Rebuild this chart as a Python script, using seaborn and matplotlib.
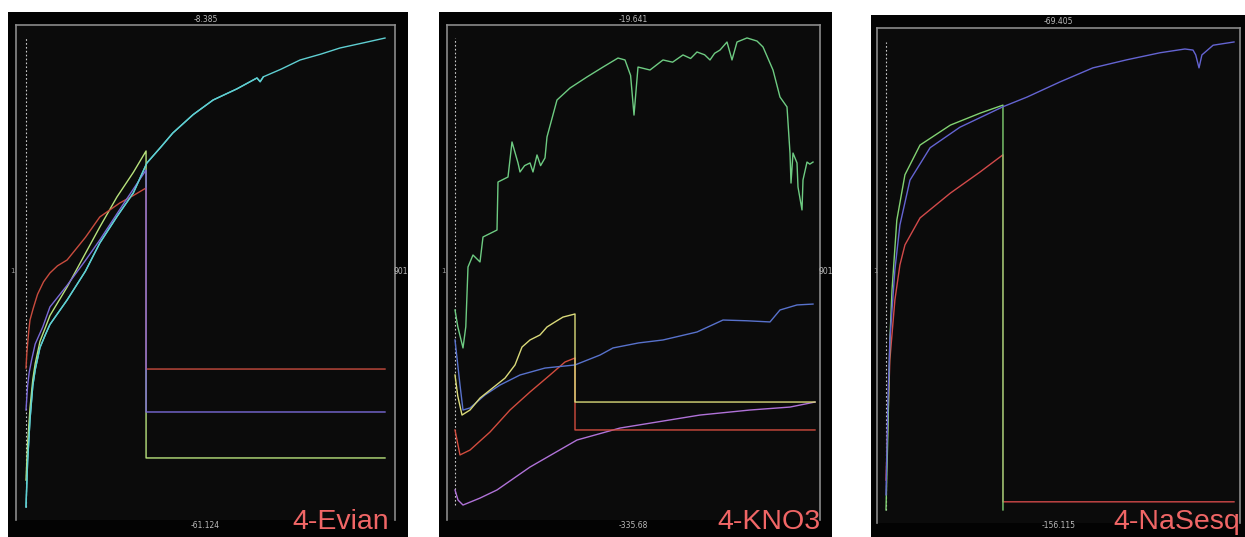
import numpy as np
import pandas as pd
import matplotlib
matplotlib.use("Agg")
import matplotlib.pyplot as plt
import seaborn as sns

# ---- Panel 1: 4-Evian ----
evian_range = (-61.124, -8.385)
evian_cyan_x = [1, 5, 11, 18, 24, 36, 49, 61, 104, 150, 186, 230, 270, 304, 340, 369, 420, 470, 530, 580, 588, 596, 640, 688, 740, 788, 850, 901]
evian_cyan_y = [-61.12, -56.0, -51.3, -47.5, -45.7, -43.2, -41.8, -40.6, -37.85, -34.6, -31.44, -28.4, -25.81, -22.44, -20.6, -19.07, -17.0, -15.36, -14.1, -12.88, -13.3, -12.75, -11.9, -10.86, -10.2, -9.51, -8.9, -8.39]
evian_green_x = [1, 5, 11, 18, 24, 36, 49, 61, 104, 150, 186, 229, 270, 302, 302, 901]
evian_green_y = [-58.1, -54.0, -50.0, -46.8, -45.0, -42.5, -41.0, -39.6, -36.39, -32.6, -29.64, -26.26, -23.5, -21.09, -55.61, -55.61]
evian_purple_x = [1, 5, 9, 15, 24, 43, 61, 104, 150, 186, 240, 302, 302, 901]
evian_purple_y = [-50.22, -47.5, -46.0, -44.6, -42.8, -40.88, -38.63, -36.2, -33.4, -31.1, -27.4, -23.23, -50.44, -50.44]
evian_red_x = [1, 3, 5, 8, 11, 19, 30, 45, 61, 80, 104, 150, 186, 236, 270, 302, 302, 901]
evian_red_y = [-45.5, -43.9, -42.8, -41.3, -40.1, -38.8, -37.2, -35.8, -34.81, -34.0, -33.35, -30.8, -28.51, -26.94, -26.1, -25.25, -45.61, -45.61]

# ---- Panel 2: 4-KNO3 ----
kno3_range = (-335.68, -19.641)
kno3_green_x = [1, 8, 21, 28, 33.5, 46, 63.5, 71, 106, 108.5, 133.5, 143.5, 158.5, 163.5, 175, 188.5, 196, 206, 215, 226, 231, 256,
                288.5, 331, 371, 408.5, 426, 440, 448.5, 458.5, 488.5, 521, 545, 571, 590, 606, 625, 638.5, 650, 663.5, 681, 693.5, 706, 731,
                756, 771, 796, 813.5, 831, 838.5, 841, 846, 856, 858.5, 868.5, 871, 881, 888, 896]
kno3_green_y = [-203.7, -215.0, -229.4, -215.0, -174.6, -166.5, -171.2, -154.3, -149.6, -117.1, -113.7, -90.0, -104.2, -110.3, -106.0, -104.2, -110.3, -98.8, -106.0, -100.8, -86.6, -61.6,
                -53.5, -46.0, -39.3, -33.2, -34.5, -45.0, -71.8, -39.3, -41.3, -34.5, -36.0, -31.1, -33.5, -29.1, -31.0, -34.5, -30.0, -27.8, -22.35, -34.5, -22.35, -19.6,
                -21.7, -25.7, -41.3, -59.6, -66.3, -97.5, -117.8, -97.5, -104.2, -120.5, -136.0, -115.7, -103.6, -105.0, -103.6]
kno3_yellow_x = [1, 8, 18.5, 38.5, 63.5, 88.5, 126, 151, 168.5, 188.5, 213.5, 231, 251, 271, 301, 301, 901]
kno3_yellow_y = [-247.7, -262.0, -274.8, -271.4, -263.3, -257.9, -249.8, -240.9, -228.8, -224.0, -220.6, -215.2, -211.8, -208.5, -206.4, -266.0, -266.0]
kno3_blue_x = [1, 13.5, 21, 38.5, 76, 113.5, 163.5, 226, 301, 363.5, 396, 460, 521, 606, 671, 730, 788.5, 813.5, 856, 896]
kno3_blue_y = [-224.0, -254.5, -271.4, -270.0, -261.2, -254.5, -247.7, -243.0, -240.9, -234.2, -229.4, -226.0, -224.0, -218.6, -210.5, -211.0, -211.8, -203.7, -200.3, -199.7]
kno3_red_x = [1, 13.5, 38.5, 88.5, 138.5, 188.5, 238.5, 276, 301, 301, 901]
kno3_red_y = [-284.9, -301.8, -298.5, -286.3, -271.4, -259.2, -247.7, -238.9, -236.2, -284.9, -284.9]
kno3_purple_x = [1, 8.5, 21, 63.5, 106, 188.5, 306, 413.5, 613.5, 738.5, 838.5, 901]
kno3_purple_y = [-325.5, -332.3, -335.7, -331.0, -325.5, -310.0, -291.7, -283.6, -274.8, -271.4, -269.4, -266.0]

# ---- Panel 3: 4-NaSesq ----
nasesq_range = (-156.115, -69.405)
nasesq_red_x = [1, 6, 11, 24, 37, 50, 89, 167.5, 244, 303.5, 303.5, 901]
nasesq_red_y = [-150.6, -139.4, -128.3, -117.2, -110.7, -107.0, -102.0, -97.4, -93.5, -90.3, -154.6, -154.6]
nasesq_green_x = [1, 6, 11, 16.5, 29, 50, 89, 167.5, 244, 303.5, 303.5]
nasesq_green_y = [-156.1, -141.3, -124.6, -115.4, -102.4, -94.0, -88.5, -84.8, -82.6, -81.1, -156.1]
nasesq_blue_x = [1, 6, 11, 24, 37, 63, 115, 192, 303.5, 366, 451, 536, 624, 709.5, 774, 795, 802, 810.5, 818, 847, 901]
nasesq_blue_y = [-153.3, -135.7, -124.6, -111.6, -103.3, -95.0, -89.0, -85.2, -81.4, -79.6, -76.8, -74.2, -72.7, -71.4, -70.7, -70.9, -71.8, -74.2, -71.8, -70.0, -69.4]

fig = plt.figure(figsize=(12.45, 5.37), dpi=100)
fig.patch.set_facecolor("white")

W, H = 1245, 537


def box(x0, y0, x1, y1):
    # pixel box (top-left origin) -> figure fraction
    return [x0 / W, 1 - y1 / H, (x1 - x0) / W, (y1 - y0) / H]


panels = [
    {"outer": (8, 12, 408, 537), "inner": (16, 25, 395, 520), "data_px": (26, 38, 385, 507),
     "range": evian_range, "top": "-8.385", "bottom": "-61.124", "name": "4-Evian", "name_right": 389, "show901": True,
     "series": [(evian_cyan_x, evian_cyan_y, "#5fcfd2"), (evian_green_x, evian_green_y, "#b8e27c"),
                (evian_red_x, evian_red_y, "#c94c3e"), (evian_purple_x, evian_purple_y, "#7a6ad8"),
                (evian_cyan_x[:22], evian_cyan_y[:22], "#5fcfd2")]},
    {"outer": (439, 12, 832, 537), "inner": (447, 25, 820, 520), "data_px": (455, 38, 815, 505),
     "range": kno3_range, "top": "-19.641", "bottom": "-335.68", "name": "4-KNO3", "name_right": 821, "show901": True,
     "series": [(kno3_purple_x, kno3_purple_y, "#b072d8"), (kno3_red_x, kno3_red_y, "#d24c3e"),
                (kno3_blue_x, kno3_blue_y, "#5872cc"), (kno3_yellow_x, kno3_yellow_y, "#dada7a"),
                (kno3_green_x, kno3_green_y, "#6ecb82")]},
    {"outer": (871, 15, 1245, 537), "inner": (877, 28, 1240, 523), "data_px": (886, 42, 1234, 510),
     "range": nasesq_range, "top": "-69.405", "bottom": "-156.115", "name": "4-NaSesq", "name_right": 1240, "show901": False,
     "series": [(nasesq_red_x, nasesq_red_y, "#d24a4a"), (nasesq_green_x, nasesq_green_y, "#82d272"),
                (nasesq_blue_x, nasesq_blue_y, "#6464d2")]},
]

for p in panels:
    ox0, oy0, ox1, oy1 = p["outer"]
    ix0, iy0, ix1, iy1 = p["inner"]
    dx0, dy0, dx1, dy1 = p["data_px"]
    ymin, ymax = p["range"]

    outer = fig.add_axes(box(*p["outer"]))
    outer.set_facecolor("#030303")
    outer.set_xticks([])
    outer.set_yticks([])
    for s in outer.spines.values():
        s.set_visible(False)

    ax = fig.add_axes(box(*p["inner"]))
    ax.set_facecolor("#0b0b0b")

    # limits so that x=1..901 and the value range land on the traced pixels
    xs = 900 / (dx1 - dx0)
    ys = (ymax - ymin) / (dy1 - dy0)
    ax.set_xlim(1 - (dx0 - ix0) * xs, 901 + (ix1 - dx1) * xs)
    ax.set_ylim(ymin - (iy1 - dy1) * ys, ymax + (dy0 - iy0) * ys)

    ax.vlines(1, ymin, ymax, colors="#cccccc", linestyles=(0, (1.5, 2)), linewidth=0.8)

    for sx, sy, col in p["series"]:
        df = pd.DataFrame({"x": sx, "y": sy})
        sns.lineplot(data=df, x="x", y="y", ax=ax, color=col, linewidth=1.0,
                     estimator=None, sort=False)

    ax.set_xticks([])
    ax.set_yticks([])
    ax.set_xlabel("")
    ax.set_ylabel("")
    for side in ["left", "right", "top"]:
        ax.spines[side].set_color("#8a8a8a")
        ax.spines[side].set_linewidth(1.2)
    ax.spines["bottom"].set_visible(False)

    cx = ((ix0 + ix1) / 2) / W
    fig.text(cx, 1 - (iy0 - 6) / H, p["top"], color="#bbbbbb", fontsize=5.5, ha="center", va="center")
    fig.text(cx, 1 - (oy1 - 11) / H, p["bottom"], color="#bbbbbb", fontsize=5.5, ha="center", va="center")
    fig.text((ox0 + 4) / W, 1 - 271 / H, "1", color="#999999", fontsize=5, ha="center", va="center")
    if p["show901"]:
        fig.text((ix1 + 6) / W, 1 - 271 / H, "901", color="#bbbbbb", fontsize=5.5, ha="center", va="center")

    fig.text(p["name_right"] / W, 1 - 529 / H, p["name"], color="#f06666", fontsize=20.5,
             family="Liberation Sans", ha="right", va="baseline")

fig.savefig("out.png", dpi=100, facecolor="white")
